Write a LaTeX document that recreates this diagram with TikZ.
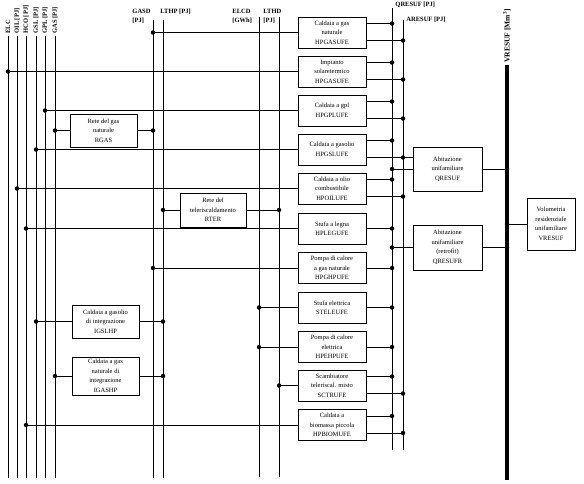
\documentclass[tikz,border=0pt]{standalone}
\usepackage{fontspec}
\setmainfont{Liberation Serif}
\usetikzlibrary{positioning}

\begin{document}
\begin{tikzpicture}[x=1pt,y=-1pt,line width=.9pt,
  blk/.style={draw,align=center,font=\fontsize{6.5}{9.5}\selectfont,inner sep=2pt,minimum width=68pt,minimum height=31pt},
  junc/.style={circle,fill,inner sep=0pt,minimum size=4.5pt},
  lbl/.style={font=\fontsize{6.5}{9}\selectfont\bfseries,inner sep=0pt},
  vlbl/.style={lbl,rotate=90,anchor=west}]
  \useasboundingbox (0,0) rectangle (584,483);
  % bus bars
  \foreach \n/\x/\t in {elc/8/ELC,oil/17/{OIL [PJ]},hco/26/{HCO [PJ]},gsl/36/{GSL [PJ]},gpl/45/{GPL [PJ]},gas/55/{GAS [PJ]}} {
    \coordinate (\n) at (\x,36);
    \coordinate (\n-b) at (\x,478);
    \draw (\n) -- (\n-b);
    \node[vlbl] (\n-l) at (\x,34) {\t};
  }
  \coordinate (gasd) at (153,20); \coordinate (gasd-b) at (153,478);
  \coordinate (lthp) at (163,20); \coordinate (lthp-b) at (163,478);
  \coordinate (elcd) at (259,17); \coordinate (elcd-b) at (259,477);
  \coordinate (lthd) at (279,17); \coordinate (lthd-b) at (279,477);
  \coordinate (qbus) at (392,8);  \coordinate (qbus-b) at (392,450);
  \coordinate (abus) at (403,20); \coordinate (abus-b) at (403,450);
  \coordinate (vbus) at (507,65); \coordinate (vbus-b) at (507,480);
  \foreach \n in {gasd,lthp,elcd,lthd,qbus,abus} \draw (\n) -- (\n-b);
  \draw[line width=4pt] (vbus) -- (vbus-b);
  \node[lbl,anchor=north west,align=left] (gasd-l) at (132,9) {GASD\\{}[PJ]};
  \node[lbl,anchor=north west] (lthp-l) at (160,9) {LTHP [PJ]};
  \node[lbl,anchor=north west,align=left] (elcd-l) at (232,9) {ELCD\\{}[GWh]};
  \node[lbl,anchor=north west,align=left] (lthd-l) at (263,9) {LTHD\\{}[PJ]};
  \node[lbl,anchor=west] (qbus-l) at (395,5) {QRESUF [PJ]};
  \node[lbl,anchor=west] (abus-l) at (406,20) {ARESUF [PJ]};
  \node[vlbl,font=\fontsize{7.5}{9}\selectfont\bfseries] (vbus-l) at (507,63) {VRESUF [Mm\textsuperscript{3}]};
  % technologies
  \node[blk] (hpgas) at (332,32.5) {Caldaia a gas\\naturale\\HPGASUFE};
  \node[blk] (hpsol) at (332,71.5) {Impianto\\solaretermico\\HPGASUFE};
  \node[blk] (hpgpl) at (332,110.5) {Caldaia a gpl\\HPGPLUFE};
  \node[blk] (hpgsl) at (332,149.5) {Caldaia a gasolio\\HPGSLUFE};
  \node[blk] (hpoil) at (332,188.5) {Caldaia a olio\\combustibile\\HPOILUFE};
  \node[blk] (hpleg) at (332,228.5) {Stufa a legna\\HPLEGUFE};
  \node[blk] (hpghp) at (332,268) {Pompa di calore\\a gas naturale\\HPGHPUFE};
  \node[blk] (stele) at (332,307.5) {Stufa elettrica\\STELEUFE};
  \node[blk] (hpehp) at (332,347) {Pompa di calore\\elettrica\\HPEHPUFE};
  \node[blk] (sctr) at (332,385.5) {Scambiatore\\teleriscal. misto\\SCTRUFE};
  \node[blk] (hpbiom) at (332,425) {Caldaia a\\biomassa piccola\\HPBIOMUFE};
  \node[blk,minimum width=67pt,minimum height=33pt] (rgas) at (103.5,130.5) {Rete del gas\\naturale\\RGAS};
  \node[blk,minimum width=66pt,minimum height=34pt] (rter) at (213,210) {Rete del\\teleriscaldamento\\RTER};
  \node[blk,minimum width=67pt,minimum height=33pt] (igslhp) at (105.5,321.5) {Caldaia a gasolio\\di integrazione\\IGSLHP};
  \node[blk,minimum width=67pt,minimum height=38pt] (igashp) at (105.5,376) {Caldaia a gas\\naturale di\\integrazione\\IGASHP};
  \node[blk,minimum width=69pt,minimum height=44pt] (qres) at (447.5,169) {Abitazione\\unifamiliare\\QRESUF};
  \node[blk,minimum width=69pt,minimum height=45pt] (qresr) at (447.5,247.5) {Abitazione\\unifamiliare\\(retrofit)\\QRESUFR};
  \node[blk,minimum width=48pt,minimum height=52pt] (vres) at (551,224) {Volumetria\\residenziale\\unifamiliare\\VRESUF};
  % inputs
  \foreach \b/\s in {hpgas/gasd,hpsol/elc,hpgpl/gpl,hpgsl/gsl,hpoil/oil,hpleg/hco,hpghp/gasd,stele/elcd,hpehp/elcd,sctr/lthd,hpbiom/hco,rgas/gas,rter/lthp,igslhp/gsl,igashp/gas,qres/qbus,qresr/qbus}
    \draw (\b.west -| \s) node[junc]{} -- (\b.west);
  \draw ([yshift=11.5pt]qres.west -| abus) -- ([yshift=11.5pt]qres.west);
  % outputs
  \foreach \b in {hpgas,hpsol,hpgpl,hpgsl,hpoil,sctr,hpbiom} {
    \draw ([yshift=9pt]\b.east) -- ([yshift=9pt]\b.east -| qbus) node[junc]{};
    \draw ([yshift=-8pt]\b.east) -- ([yshift=-8pt]\b.east -| abus) node[junc]{};
  }
  \foreach \b/\s in {hpleg/qbus,hpghp/qbus,stele/qbus,hpehp/qbus,rgas/gasd,rter/lthd,igslhp/lthp,igashp/lthp,qres/vbus,qresr/vbus}
    \draw (\b.east) -- (\b.east -| \s) node[junc]{};
  \draw (vres.west -| vbus) node[junc]{} -- (vres.west);
\end{tikzpicture}
\end{document}
